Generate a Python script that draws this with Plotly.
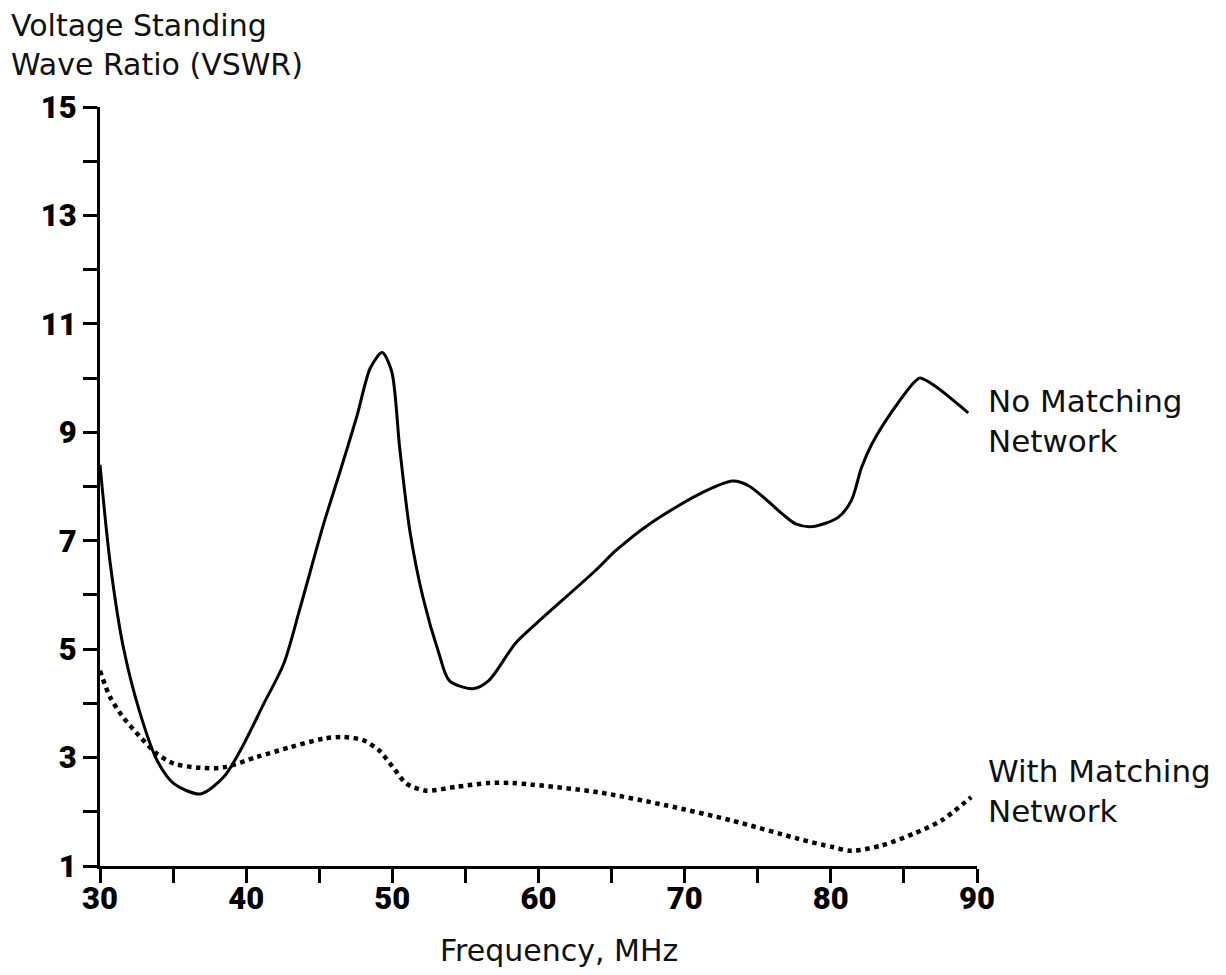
import plotly.graph_objects as go

# Frequency (MHz) and VSWR readings – No Matching Network (solid)
freq_no = [30.0, 30.7, 31.6, 32.75, 33.9, 35.05, 36.87, 38.46, 39.6, 41.2, 42.57, 43.7,
           45.3, 46.44, 47.58, 48.5, 49.3, 49.95, 50.5, 51.2, 52.1, 53.2, 53.9, 55.5,
           56.6, 58.4, 59.8, 63.9, 65.3, 67.6, 71.0, 73.28, 74.4, 76.7, 77.6, 78.74,
           80.5, 81.4, 82.1, 82.8, 84.2, 85.8, 86.1, 87.1, 89.4]
vswr_no = [8.4, 6.58, 5.03, 3.81, 2.95, 2.52, 2.33, 2.64, 3.13, 3.99, 4.73, 5.77,
           7.31, 8.29, 9.3, 10.19, 10.47, 10.13, 8.72, 7.18, 5.95, 4.91, 4.42, 4.27,
           4.42, 5.10, 5.46, 6.45, 6.82, 7.31, 7.86, 8.10, 8.01, 7.49, 7.31, 7.26,
           7.43, 7.74, 8.35, 8.78, 9.39, 9.95, 10.0, 9.86, 9.36]

# With Matching Network (dotted)
freq_with = [30.0, 30.7, 31.6, 32.75, 33.9, 35.05, 36.87, 38.46, 40.74, 43.0, 45.3,
             46.6, 48.0, 49.1, 50.05, 50.96, 52.3, 54.35, 56.6, 58.2, 59.6, 64.1,
             68.7, 73.2, 77.8, 80.1, 81.4, 83.5, 85.7, 87.57, 89.6]
vswr_with = [4.6, 4.11, 3.74, 3.38, 3.07, 2.89, 2.81, 2.82, 3.01, 3.19, 3.35,
             3.38, 3.32, 3.13, 2.82, 2.52, 2.39, 2.46, 2.53, 2.53, 2.50, 2.36,
             2.12, 1.84, 1.50, 1.35, 1.28, 1.38, 1.60, 1.84, 2.27]

x_ticks = list(range(30, 91, 5))
x_labels = [str(v) if v % 10 == 0 else "" for v in x_ticks]
y_ticks = list(range(1, 16))
y_labels = [str(v) if v % 2 == 1 else "" for v in y_ticks]

TXT = "DejaVu Sans"
TICKFONT = dict(family="Roboto", size=31, color="black", weight=900)

fig = go.Figure()
fig.add_trace(go.Scatter(x=freq_no, y=vswr_no, mode="lines",
                         line=dict(color="black", width=3, shape="spline", smoothing=0.8),
                         showlegend=False, hoverinfo="skip"))
fig.add_trace(go.Scatter(x=freq_with, y=vswr_with, mode="lines",
                         line=dict(color="black", width=4.5, dash="4.5px,4.5px",
                                   shape="spline", smoothing=0.8),
                         showlegend=False, hoverinfo="skip"))

fig.update_layout(
    width=1210, height=959,
    paper_bgcolor="white", plot_bgcolor="white",
    margin=dict(l=92, r=241, t=99, b=101),
    xaxis=dict(range=[30, 90], tickvals=x_ticks, ticktext=x_labels,
               showgrid=False, zeroline=False, showline=True, linecolor="black",
               linewidth=3, ticks="outside", ticklen=14, tickwidth=3, tickcolor="black",
               ticklabelstandoff=-11, tickfont=TICKFONT),
    yaxis=dict(range=[1, 15], tickvals=y_ticks, ticktext=y_labels,
               showgrid=False, zeroline=False, showline=True, linecolor="black",
               linewidth=3, ticks="outside", ticklen=14, tickwidth=3, tickcolor="black",
               tickfont=TICKFONT),
    annotations=[
        dict(text="Voltage Standing<br>Wave Ratio (VSWR)", xref="paper", yref="paper",
             x=0, xshift=-91, y=1.0, yshift=101, xanchor="left", yanchor="top",
             showarrow=False, align="left", font=dict(family=TXT, size=30, color="#111")),
        dict(text="Frequency, MHz", xref="paper", yref="paper", x=0.523, y=0, yshift=-84,
             xanchor="center", yanchor="middle", showarrow=False,
             font=dict(family=TXT, size=30, color="#111")),
        dict(text="No Matching<br>Network", xref="paper", yref="y", x=1.0, xshift=9,
             y=9.2, xanchor="left", yanchor="middle", showarrow=False, align="left",
             font=dict(family=TXT, size=31, color="#111")),
        dict(text="With Matching<br>Network", xref="paper", yref="y", x=1.0, xshift=9,
             y=2.38, xanchor="left", yanchor="middle", showarrow=False, align="left",
             font=dict(family=TXT, size=31, color="#111")),
    ],
)

fig.write_html("out.html")
